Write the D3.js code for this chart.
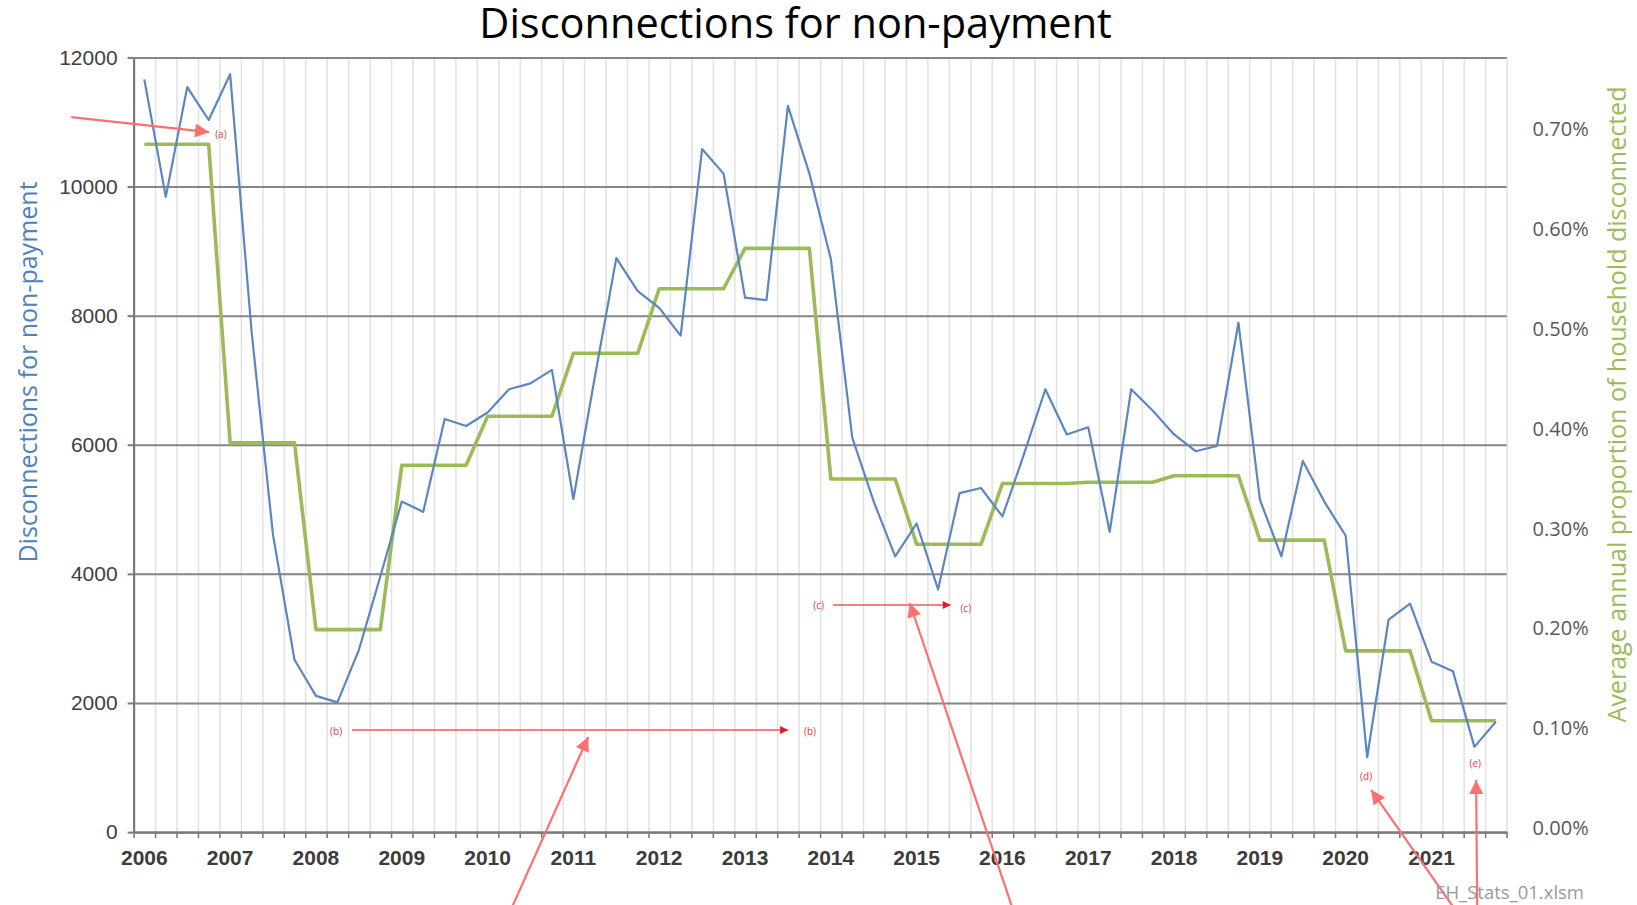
<!DOCTYPE html>
<html>
<head>
<meta charset="utf-8">
<title>Disconnections for non-payment</title>
<script src="https://cdn.jsdelivr.net/npm/d3@7"></script>
<style>
  body { margin: 0; background: #fff; }
  svg { display: block; background: #fff; }
</style>
</head>
<body>
<svg id="chart"></svg>
<script>
var years = [2006, 2007, 2008, 2009, 2010, 2011, 2012, 2013, 2014, 2015, 2016, 2017, 2018, 2019, 2020, 2021];
var quarters = ["Q1", "Q2", "Q3", "Q4"];

// quarterly disconnections (left axis)
var disconnections = [
  11660, 9840, 11540, 11030,
  11740, 7750, 4600, 2670,
  2110, 2010, 2820, 3960,
  5120, 4960, 6400, 6290,
  6500, 6860, 6950, 7160,
  5160, 7050, 8890, 8380,
  8120, 7690, 10580, 10200,
  8280, 8240, 11250, 10200,
  8880, 6110, 5120, 4270,
  4780, 3760, 5250, 5330,
  4890, 5850, 6860, 6160,
  6270, 4650, 6860, 6530,
  6160, 5900, 5980, 7890,
  5150, 4270, 5750, 5120,
  4590, 1160, 3290, 3540,
  2640, 2490, 1320, 1710
];

// average annual proportion of households disconnected, % (right axis)
var annualProportion = [0.685, 0.386, 0.199, 0.3635, 0.4126, 0.4757, 0.5403, 0.5808,
  0.3498, 0.2844, 0.3453, 0.3465, 0.3530, 0.2886, 0.1777, 0.1077];

var leftTicks = [0, 2000, 4000, 6000, 8000, 10000, 12000];
var rightTicks = [0, 0.1, 0.2, 0.3, 0.4, 0.5, 0.6, 0.7];

// slide annotations, in (quarter position, left-axis value)
var noteLabels = [
  {text: "(a)", q: 4.07, v: 10812},
  {text: "(b)", q: 9.44, v: 1566},
  {text: "(b)", q: 31.53, v: 1566},
  {text: "(c)", q: 31.93, v: 3518},
  {text: "(c)", q: 38.79, v: 3471},
  {text: "(d)", q: 57.45, v: 869},
  {text: "(e)", q: 62.54, v: 1071}
];
var noteArrows = [
  {from: [-2.91, 11075], to: [3.52, 10843], kind: "big"},
  {from: [10.18, 1581], to: [30.51, 1581], kind: "small"},
  {from: [32.6, 3518], to: [38.09, 3518], kind: "small"},
  {from: [17.59, -1200], to: [21.19, 1473], kind: "big"},
  {from: [40.99, -1200], to: [36.18, 3549], kind: "big"},
  {from: [61.6, -1200], to: [57.69, 652], kind: "big"},
  {from: [62.63, -1200], to: [62.58, 808], kind: "big"}
];

class DisconnectionChart {
  constructor(id, w, h) {
    this.w = w;
    this.h = h;
    this.box = {left: 133.6, right: 1506.6, top: 57.4, bottom: 832.1};
    this.svg = d3.select("#" + id).attr("width", w).attr("height", h);

    this.x = d3.scaleLinear()
      .domain([0, years.length * quarters.length])
      .range([this.box.left, this.box.right]);
    this.yLeft = d3.scaleLinear().domain([0, 12000]).range([this.box.bottom, this.box.top]);
    this.yRight = d3.scaleLinear().domain([0, 0.7]).range([828.3, 129.3]);

    // one row per quarter
    this.table = [];
    for (var yi = 0; yi < years.length; yi++) {
      for (var qi = 0; qi < quarters.length; qi++) {
        var i = yi * quarters.length + qi;
        this.table.push({year: years[yi], quarter: quarters[qi], idx: i,
          count: disconnections[i], share: annualProportion[yi]});
      }
    }
  }

  drawGrid() {
    var b = this.box;
    var n = years.length * quarters.length;

    // light vertical lines on quarter boundaries
    this.svg.append("g")
      .attr("transform", "translate(0," + b.bottom + ")")
      .call(d3.axisBottom(this.x).tickValues(d3.range(n + 1)).tickSize(-(b.bottom - b.top)).tickFormat(""))
      .call(g => g.select(".domain").remove())
      .selectAll("line").attr("stroke", "#e3e3e3").attr("stroke-width", 1.6);

    // horizontal gridlines
    this.svg.append("g")
      .attr("transform", "translate(" + b.left + ",0)")
      .call(d3.axisLeft(this.yLeft).tickValues(leftTicks).tickSize(-(b.right - b.left)).tickFormat(""))
      .call(g => g.select(".domain").remove())
      .selectAll("line").attr("stroke", "#858585").attr("stroke-width", 2);
  }

  drawAxes() {
    var b = this.box;
    var n = years.length * quarters.length;

    var left = this.svg.append("g")
      .attr("transform", "translate(" + b.left + ",0)")
      .call(d3.axisLeft(this.yLeft).tickValues(leftTicks).tickSize(6).tickSizeOuter(0).tickPadding(10).tickFormat(d3.format("d")));
    left.select(".domain").attr("stroke", "#7a7a7a").attr("stroke-width", 2.2);
    left.selectAll("line").attr("stroke", "#7a7a7a").attr("stroke-width", 2);
    left.selectAll("text")
      .attr("font-family", "'Liberation Sans', Arial, sans-serif")
      .attr("font-size", 21).attr("fill", "#404040");

    var bottom = this.svg.append("g")
      .attr("transform", "translate(0," + b.bottom + ")")
      .call(d3.axisBottom(this.x).tickValues(d3.range(n + 1)).tickSize(6).tickSizeOuter(0).tickFormat(""));
    bottom.select(".domain").attr("stroke", "#7a7a7a").attr("stroke-width", 2.4);
    bottom.selectAll("line").attr("stroke", "#7a7a7a").attr("stroke-width", 1.6);

    // year labels sit under the first quarter of each year
    var that = this;
    this.svg.append("g").selectAll("text").data(years).enter()
      .append("text")
      .attr("x", function(d, i) { return that.x(i * quarters.length + 0.5); })
      .attr("y", 857)
      .attr("text-anchor", "middle")
      .attr("dominant-baseline", "central")
      .attr("font-family", "'Liberation Sans', Arial, sans-serif")
      .attr("font-weight", "bold")
      .attr("font-size", 21)
      .attr("fill", "#3c3c3c")
      .text(function(d) { return d; });

    var right = this.svg.append("g")
      .attr("transform", "translate(" + b.right + ",0)")
      .call(d3.axisRight(this.yRight).tickValues(rightTicks).tickSize(0).tickPadding(26)
        .tickFormat(function(d) { return d3.format(".2f")(d) + "%"; }));
    right.select(".domain").remove();
    right.selectAll("text")
      .attr("font-family", "'Open Sans', sans-serif")
      .attr("font-size", 20).attr("fill", "#595959");

    // titles
    this.svg.append("text")
      .attr("x", 795.6).attr("y", 38)
      .attr("text-anchor", "middle")
      .attr("font-family", "'Open Sans', sans-serif")
      .attr("font-size", 41.5)
      .attr("fill", "#000")
      .text("Disconnections for non-payment");

    this.svg.append("text")
      .attr("transform", "translate(27,372) rotate(-90)")
      .attr("text-anchor", "middle")
      .attr("dominant-baseline", "central")
      .attr("font-family", "'Open Sans', sans-serif")
      .attr("font-size", 25)
      .attr("fill", "#4f81bd")
      .text("Disconnections for non-payment");

    this.svg.append("text")
      .attr("transform", "translate(1616,404.5) rotate(-90)")
      .attr("text-anchor", "middle")
      .attr("dominant-baseline", "central")
      .attr("font-family", "'Open Sans', sans-serif")
      .attr("font-size", 25)
      .attr("fill", "#9bbb59")
      .text("Average annual proportion of household disconnected");
  }

  drawLines() {
    var that = this;
    var blue = d3.line()
      .x(function(d) { return that.x(d.idx + 0.5); })
      .y(function(d) { return that.yLeft(d.count); });
    var green = d3.line()
      .x(function(d) { return that.x(d.idx + 0.5); })
      .y(function(d) { return that.yRight(d.share); });

    this.svg.append("path").datum(this.table)
      .attr("d", green)
      .attr("fill", "none")
      .attr("stroke", "#9bbb59")
      .attr("stroke-width", 3.6)
      .attr("stroke-linejoin", "round");

    this.svg.append("path").datum(this.table)
      .attr("d", blue)
      .attr("fill", "none")
      .attr("stroke", "#5b86c0")
      .attr("stroke-width", 2.2)
      .attr("stroke-linejoin", "round");
  }

  drawNotes() {
    var that = this;
    var defs = this.svg.append("defs");
    defs.append("marker").attr("id", "head-big")
      .attr("markerUnits", "userSpaceOnUse")
      .attr("viewBox", "0 0 10 10").attr("refX", 10).attr("refY", 5)
      .attr("markerWidth", 17).attr("markerHeight", 14).attr("orient", "auto")
      .append("path").attr("d", "M0,0L10,5L0,10z").attr("fill", "#ff6f6f");
    defs.append("marker").attr("id", "head-small")
      .attr("markerUnits", "userSpaceOnUse")
      .attr("viewBox", "0 0 10 10").attr("refX", 10).attr("refY", 5)
      .attr("markerWidth", 9).attr("markerHeight", 8).attr("orient", "auto")
      .append("path").attr("d", "M0,0L10,5L0,10z").attr("fill", "#e8161c");

    this.svg.append("g").selectAll("line").data(noteArrows).enter()
      .append("line")
      .attr("x1", function(d) { return that.x(d.from[0]); })
      .attr("y1", function(d) { return that.yLeft(d.from[1]); })
      .attr("x2", function(d) { return that.x(d.to[0]); })
      .attr("y2", function(d) { return that.yLeft(d.to[1]); })
      .attr("stroke", function(d) { return d.kind == "big" ? "#ff6f6f" : "#f0585c"; })
      .attr("stroke-width", function(d) { return d.kind == "big" ? 2.2 : 1.4; })
      .attr("marker-end", function(d) { return "url(#head-" + d.kind + ")"; });

    this.svg.append("g").selectAll("text").data(noteLabels).enter()
      .append("text")
      .attr("x", function(d) { return that.x(d.q); })
      .attr("y", function(d) { return that.yLeft(d.v); })
      .attr("text-anchor", "middle")
      .attr("dominant-baseline", "central")
      .attr("font-family", "'Open Sans', sans-serif")
      .attr("font-size", 10)
      .attr("fill", "#e8383c")
      .text(function(d) { return d.text; });

    this.svg.append("text")
      .attr("x", 1584).attr("y", 891)
      .attr("text-anchor", "end")
      .attr("dominant-baseline", "central")
      .attr("font-family", "'Open Sans', sans-serif")
      .attr("font-size", 18.5)
      .attr("fill", "#9a9a9a")
      .text("EH_Stats_01.xlsm");
  }
}

var chart = new DisconnectionChart("chart", 1637, 905);
chart.drawGrid();
chart.drawAxes();
chart.drawLines();
chart.drawNotes();
</script>
</body>
</html>
